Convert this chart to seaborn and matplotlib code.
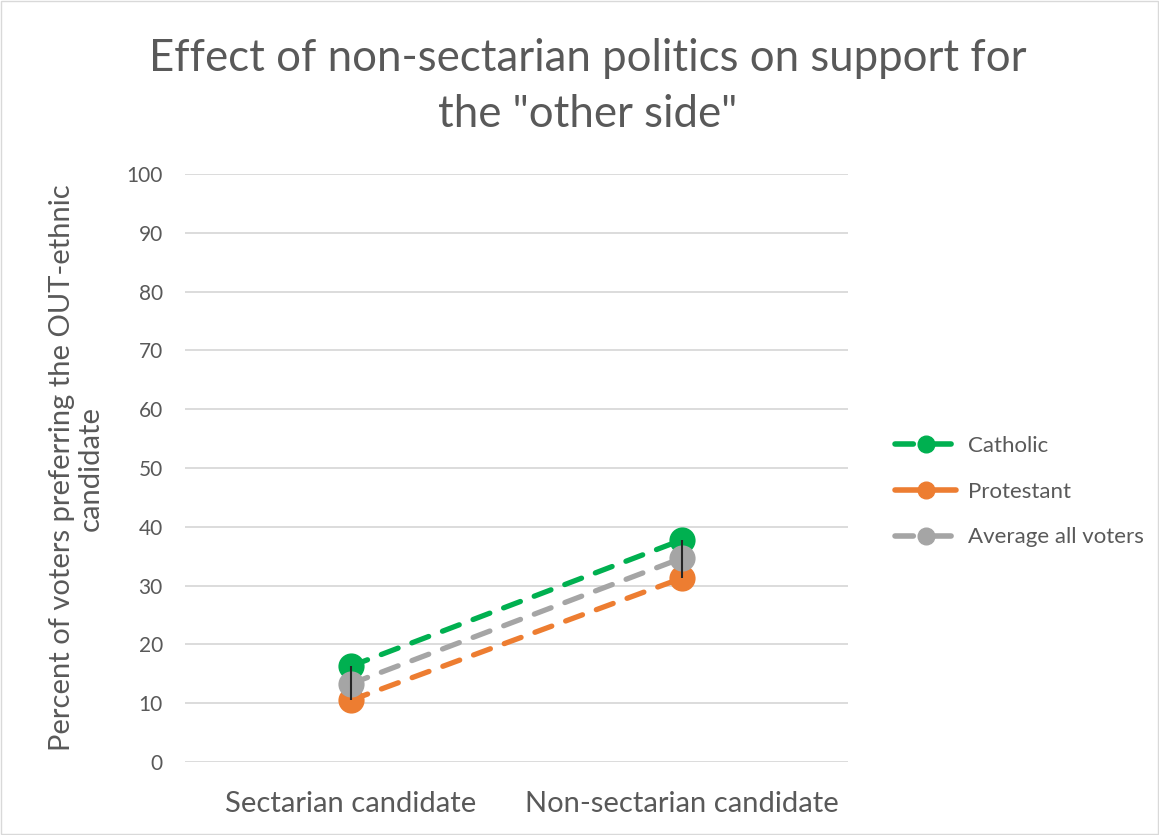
import matplotlib
matplotlib.use("Agg")
import matplotlib.pyplot as plt
from matplotlib.lines import Line2D
import seaborn as sns
import pandas as pd

categories = ["Sectarian candidate", "Non-sectarian candidate"]
catholic = [16.3, 37.8]
protestant = [10.5, 31.3]
average = [13.3, 34.7]
series_names = ["Catholic", "Protestant", "Average all voters"]
colors = ["#00b050", "#ed7d31", "#a5a5a5"]
yticks = list(range(0, 101, 10))

df = pd.DataFrame({
    "candidate": categories * 3,
    "group": [series_names[0]] * 2 + [series_names[1]] * 2 + [series_names[2]] * 2,
    "value": catholic + protestant + average,
})

sns.set_theme(style="white")
plt.rcParams["font.family"] = ["Lato", "DejaVu Sans"]
text_color = "#595959"
dash = (0, (3.4, 2.8))

fig = plt.figure(figsize=(11.59, 8.35), dpi=100)
ax = fig.add_axes([0.1596, 0.0874, 0.5721, 0.7042])

sns.pointplot(
    data=df, x="candidate", y="value", hue="group",
    order=categories, hue_order=series_names, palette=colors,
    markers="o", linestyles="--", dodge=False, errorbar=None,
    markersize=16, linewidth=3.8, ax=ax,
)
for ln in ax.lines:
    ln.set_linestyle(dash)
    ln.set_dash_capstyle("round")
    ln.set_solid_capstyle("round")

# high-low connector between the highest and lowest series at each category
hi = [max(c, p, a) for c, p, a in zip(catholic, protestant, average)]
lo = [min(c, p, a) for c, p, a in zip(catholic, protestant, average)]
ax.vlines(range(len(categories)), lo, hi, colors="#262626", linewidth=1.5, zorder=10)

ax.set_xlim(-0.5, 1.5)
ax.set_ylim(0, 100)
ax.set_yticks(yticks)
ax.set_yticklabels([str(t) for t in yticks])
ax.grid(axis="y", color="#d9d9d9", linewidth=1.3)
ax.set_axisbelow(True)
for s in ax.spines.values():
    s.set_visible(False)
ax.tick_params(axis="y", length=0, labelsize=15, colors=text_color, pad=16)
ax.tick_params(axis="x", length=0, labelsize=21, colors=text_color, pad=21)
ax.set_xlabel("")
ax.set_ylabel("Percent of voters preferring the OUT-ethnic\ncandidate",
              fontsize=21, color=text_color, labelpad=16, linespacing=1.15)

fig.suptitle('Effect of non-sectarian politics on support for\nthe "other side"',
             x=0.507, y=0.9545, fontsize=31.5, color=text_color, linespacing=1.45,
             va="top")

legend_dash = (0, (3.3, 3.5))
handles = [
    Line2D([], [], color=colors[0], linestyle=legend_dash, linewidth=4,
           marker="o", markersize=12, dash_capstyle="round"),
    Line2D([], [], color=colors[1], linestyle="-", linewidth=4,
           marker="o", markersize=12, solid_capstyle="round"),
    Line2D([], [], color=colors[2], linestyle=legend_dash, linewidth=4,
           marker="o", markersize=12, dash_capstyle="round"),
]
if ax.get_legend() is not None:
    ax.get_legend().remove()
fig.legend(handles, series_names, loc="center left", bbox_to_anchor=(0.755, 0.411),
           frameon=False, fontsize=16, labelcolor=text_color, handlelength=2.75,
           handletextpad=0.55, labelspacing=1.15)

# thin light border around the whole chart
fig.patches.append(plt.Rectangle((0.001, 0.001), 0.998, 0.998, transform=fig.transFigure,
                                 fill=False, edgecolor="#d9d9d9", linewidth=1))

fig.savefig("out.png", dpi=100)
